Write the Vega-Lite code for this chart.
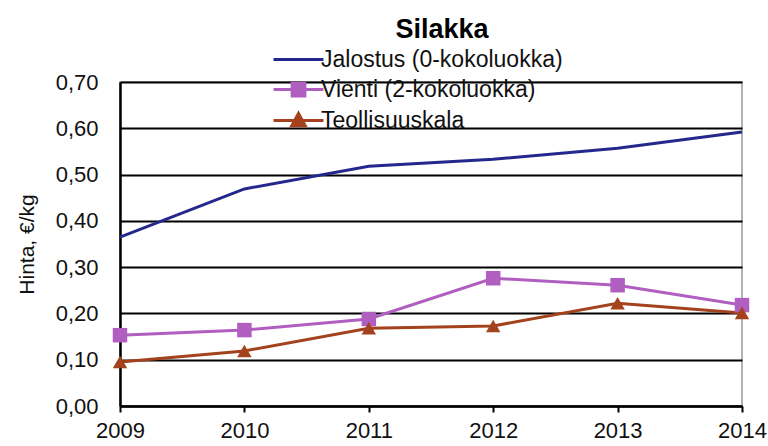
{
  "$schema": "https://vega.github.io/schema/vega-lite/v6.json",
  "width": 622,
  "height": 324,
  "autosize": {"type": "none"},
  "padding": {"left": 120, "top": 82, "right": 26, "bottom": 40},
  "background": "white",
  "config": {
    "locale": {"number": {"decimal": ",", "thousands": " ", "grouping": [3], "currency": ["", " €"]}},
    "font": "Liberation Sans, Arial",
    "view": {"stroke": "#9a9a9a", "strokeWidth": 1.5}
  },
  "title": {
    "text": "Silakka",
    "fontSize": 27,
    "fontWeight": "bold",
    "font": "Liberation Sans, Arial",
    "color": "#000000",
    "anchor": "middle",
    "dx": 11,
    "offset": 4
  },
  "data": {
    "values": [
      {"year": 2009, "series": "Jalostus (0-kokoluokka)", "price": 0.365},
      {"year": 2010, "series": "Jalostus (0-kokoluokka)", "price": 0.469},
      {"year": 2011, "series": "Jalostus (0-kokoluokka)", "price": 0.518},
      {"year": 2012, "series": "Jalostus (0-kokoluokka)", "price": 0.533},
      {"year": 2013, "series": "Jalostus (0-kokoluokka)", "price": 0.557},
      {"year": 2014, "series": "Jalostus (0-kokoluokka)", "price": 0.592},
      {"year": 2009, "series": "Vienti (2-kokoluokka)", "price": 0.153},
      {"year": 2010, "series": "Vienti (2-kokoluokka)", "price": 0.164},
      {"year": 2011, "series": "Vienti (2-kokoluokka)", "price": 0.188},
      {"year": 2012, "series": "Vienti (2-kokoluokka)", "price": 0.276},
      {"year": 2013, "series": "Vienti (2-kokoluokka)", "price": 0.261},
      {"year": 2014, "series": "Vienti (2-kokoluokka)", "price": 0.218},
      {"year": 2009, "series": "Teollisuuskala", "price": 0.095},
      {"year": 2010, "series": "Teollisuuskala", "price": 0.119},
      {"year": 2011, "series": "Teollisuuskala", "price": 0.168},
      {"year": 2012, "series": "Teollisuuskala", "price": 0.173},
      {"year": 2013, "series": "Teollisuuskala", "price": 0.222},
      {"year": 2014, "series": "Teollisuuskala", "price": 0.201}
    ]
  },
  "encoding": {
    "x": {
      "field": "year",
      "type": "quantitative",
      "scale": {"domain": [2009, 2014], "nice": false, "zero": false},
      "axis": {
        "title": null,
        "values": [2009, 2010, 2011, 2012, 2013, 2014],
        "format": "d",
        "grid": false,
        "domainColor": "#000000",
        "domainWidth": 2.5,
        "tickColor": "#000000",
        "tickWidth": 2,
        "tickSize": 6,
        "labelFontSize": 22,
        "labelColor": "#111111",
        "labelPadding": 8,
        "labelOverlap": false,
        "labelFlush": false
      }
    },
    "y": {
      "field": "price",
      "type": "quantitative",
      "scale": {"domain": [0, 0.7], "nice": false},
      "axis": {
        "title": "Hinta, €/kg",
        "titleFontSize": 21,
        "titleFontWeight": "normal",
        "titleColor": "#111111",
        "titlePadding": 18,
        "values": [0, 0.1, 0.2, 0.3, 0.4, 0.5, 0.6, 0.7],
        "format": ".2f",
        "grid": true,
        "gridColor": "#000000",
        "gridWidth": 1.8,
        "domainColor": "#000000",
        "domainWidth": 2.5,
        "ticks": false,
        "labelFontSize": 22,
        "labelColor": "#111111",
        "labelPadding": 22
      }
    },
    "color": {
      "field": "series",
      "type": "nominal",
      "scale": {
        "domain": ["Jalostus (0-kokoluokka)", "Vienti (2-kokoluokka)", "Teollisuuskala"],
        "range": ["#24288c", "#b05ec0", "#a3421d"]
      },
      "legend": {
        "title": null,
        "orient": "none",
        "legendX": 167,
        "legendY": -34,
        "labelFontSize": 23,
        "labelColor": "#111111",
        "labelLimit": 400,
        "labelOffset": 11,
        "rowPadding": 5,
        "symbolSize": 225,
        "symbolStrokeWidth": 3,
        "symbolType": "M-1,0H1",
        "encode": {
          "symbols": {
            "update": {
              "shape": {"signal": "datum.value == 'Jalostus (0-kokoluokka)' ? 'M-3.33,0H3.33' : datum.value == 'Vienti (2-kokoluokka)' ? 'M-3.33,0H3.33M-0.85,-0.85H0.85V0.85H-0.85Z' : 'M-3.33,0H3.33M0,-0.95L0.9,0.7H-0.9Z'"},
              "fill": {"scale": "color", "field": "value"},
              "stroke": {"scale": "color", "field": "value"},
              "strokeWidth": {"value": 3},
              "opacity": {"value": 1}
            }
          }
        }
      }
    }
  },
  "layer": [
    {
      "mark": {"type": "line", "strokeWidth": 3, "clip": false}
    },
    {
      "transform": [{"filter": "datum.series != 'Jalostus (0-kokoluokka)'"}],
      "mark": {"type": "point", "filled": true, "opacity": 1, "clip": false},
      "encoding": {
        "shape": {
          "field": "series",
          "type": "nominal",
          "scale": {"domain": ["Vienti (2-kokoluokka)", "Teollisuuskala"], "range": ["square", "triangle-up"]},
          "legend": null
        },
        "size": {"value": 210}
      }
    }
  ]
}
